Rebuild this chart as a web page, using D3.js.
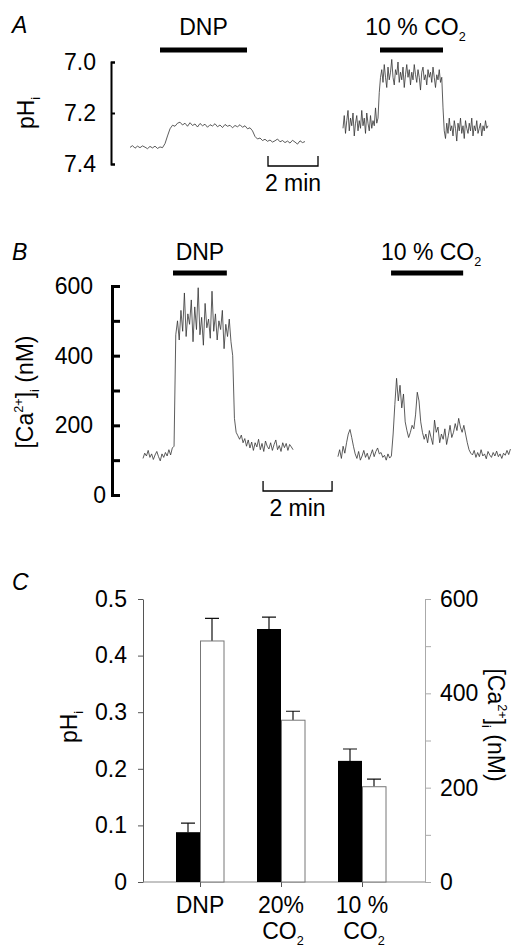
<!DOCTYPE html>
<html>
<head>
<meta charset="utf-8">
<script src="https://cdn.jsdelivr.net/npm/d3@7"></script>
<style>
  body { margin: 0; background: #fff; }
  svg { display: block; font-family: "Liberation Sans", Arial, sans-serif; }
</style>
</head>
<body>
<div id="viz"></div>
<script>
// ---------- panel A: pHi traces (minutes, pH units) ----------
const phTicksA = [7.0, 7.2, 7.4];
const stepA1 = 0.1, startA1 = 0;
const phA1 = [
  7.335, 7.328, 7.338, 7.330, 7.336, 7.329, 7.334, 7.340, 7.331, 7.337, 7.330, 7.339, 7.333, 7.336,
  7.320, 7.290, 7.262, 7.248, 7.252, 7.240,
  7.236, 7.247, 7.240, 7.252, 7.238, 7.249, 7.243, 7.255, 7.241, 7.250, 7.244, 7.256, 7.246, 7.251,
  7.242, 7.254, 7.247, 7.257, 7.245, 7.252, 7.248, 7.258, 7.249, 7.254, 7.246, 7.256, 7.250, 7.262, 7.258,
  7.270, 7.292, 7.302,
  7.298, 7.308, 7.303, 7.311, 7.306, 7.314, 7.309, 7.302, 7.313, 7.308, 7.316, 7.310, 7.318, 7.307,
  7.314, 7.322, 7.309, 7.316, 7.312
];
const stepA2 = 0.05, startA2 = 8.52;
const phA2 = [
  7.26, 7.21, 7.28, 7.23, 7.19, 7.27, 7.22, 7.25, 7.20, 7.29, 7.24, 7.21, 7.27, 7.23, 7.26, 7.19,
  7.25, 7.22, 7.28, 7.20, 7.24, 7.27, 7.21, 7.26, 7.23, 7.25, 7.18, 7.24, 7.22,
  7.12, 7.06,
  7.03, 7.08, 7.01, 7.06, 7.10, 7.02, 7.07, 7.04, 6.99, 7.06, 7.09, 7.03, 7.05, 7.00, 7.08, 7.04,
  7.07, 7.02, 7.10, 7.05, 7.01, 7.06, 7.03, 7.09, 7.04, 7.07, 7.01, 7.05, 7.08, 7.03, 7.06, 7.11,
  7.04, 7.02, 7.07, 7.05, 7.09, 7.03, 7.06, 7.04, 7.08, 7.02, 7.06, 7.10, 7.05, 7.07, 7.03, 7.08, 7.06,
  7.18, 7.27,
  7.30, 7.24, 7.28, 7.22, 7.27, 7.25, 7.29, 7.23, 7.26, 7.31, 7.24, 7.27, 7.22, 7.28, 7.25, 7.30,
  7.23, 7.26, 7.28, 7.24, 7.27, 7.22, 7.29, 7.25, 7.27, 7.23, 7.28, 7.26, 7.24, 7.29, 7.25, 7.27,
  7.23, 7.26, 7.25
];
const drugsA = [
  { label: ["DNP"], t0: 1.2, t1: 4.68 },
  { label: ["10 % CO", ["2", "sub"]], t0: 10, t1: 12.52 }
];
const scaleBarA = [5.52, 7.52];

// ---------- panel B: [Ca2+]i traces (minutes, nM) ----------
const caTicksB = [0, 100, 200, 300, 400, 500, 600];
const stepB1 = 0.05, startB1 = 0;
const caB1 = [
  105, 120, 112, 128, 108, 118, 102, 115, 125, 110, 98, 118, 108, 122, 112, 130, 115, 135,
  140, 460,
  500, 445, 530, 470, 580, 455, 520, 490, 560, 440, 540, 475, 595, 460, 510, 430,
  550, 480, 505, 450, 585, 470, 520, 445, 500, 475, 530, 420, 490, 455, 505, 440,
  400, 220, 180,
  170, 160, 172, 150, 162, 140, 158, 135, 152, 128, 150, 138, 160, 130, 148, 125, 155,
  140, 132, 150, 128, 145, 158, 130, 142, 125, 150, 136, 148, 128, 145, 138, 130
];
const stepB2 = 0.05, startB2 = 5.65;
const caB2 = [
  110, 130, 105, 140, 120, 150,
  175, 188, 165, 140,
  118, 105, 125, 100, 112, 128, 108, 120, 102, 115, 130, 110, 125, 135, 118, 122, 108, 114, 100, 118, 106, 112,
  175, 260,
  335, 270, 315, 250, 290, 210, 185,
  165, 180, 200, 190,
  230, 295, 270, 210, 180,
  160, 175, 150, 185, 165, 145,
  215, 180, 195, 150, 175, 160, 190, 145, 170, 200, 165, 180, 205, 185, 220, 195, 180, 200, 175,
  150, 130, 120,
  115, 128, 108, 122, 110, 130, 112, 118, 104, 125, 115, 108, 122, 112, 126, 110, 118, 105, 120, 114, 128, 116, 132
];
const drugsB = [
  { label: ["DNP"], t0: 0.87, t1: 2.43 },
  { label: ["10 % CO", ["2", "sub"]], t0: 7.19, t1: 9.28 }
];
const scaleBarB = [3.48, 5.48];

// ---------- panel C: mean changes ----------
const categories = ["DNP", "20% CO2", "10 % CO2"];
const catLabels = [
  [["DNP"]],
  [["20%"], ["CO", ["2", "sub"]]],
  [["10 %"], ["CO", ["2", "sub"]]]
];
const phChange = [0.088, 0.447, 0.214];
const phErr = [0.016, 0.021, 0.021];
const caChange = [511, 343, 202];
const caErr = [48, 19, 16];
const phTicksC = [0, 0.1, 0.2, 0.3, 0.4, 0.5];
const caTicksC = [0, 100, 200, 300, 400, 500, 600];

// ---------- drawing ----------
const WIDTH = 514, HEIGHT = 949, FS = 23;
const svg = d3.select("#viz").append("svg")
  .attr("width", WIDTH).attr("height", HEIGHT);
svg.append("rect").attr("width", WIDTH).attr("height", HEIGHT).attr("fill", "#fff");

// text with sub/superscripts, parts = "txt" or ["txt","sub"|"sup"]
function rich(text, parts, size) {
  let shift = 0;
  parts.forEach(p => {
    const [s, kind] = Array.isArray(p) ? p : [p, ""];
    const target = kind === "sub" ? size * 0.25 : kind === "sup" ? -size * 0.42 : 0;
    text.append("tspan")
      .attr("dy", target - shift)
      .attr("font-size", kind ? size * 0.55 : size)
      .text(s);
    shift = target;
  });
  return text;
}

function panelLetter(x, y, s) {
  svg.append("text").attr("x", x).attr("y", y)
    .attr("font-size", FS).attr("font-style", "italic").text(s);
}

function traces(x, segs) {
  const line = d3.line().x(d => x(d[0])).y(d => d[2](d[1]));
  segs.forEach(([start, step, vals, y]) => {
    svg.append("path")
      .datum(vals.map((v, i) => [start + i * step, v, y]))
      .attr("d", line)
      .attr("fill", "none")
      .attr("stroke", "#333")
      .attr("stroke-width", 0.8);
  });
}

function drugBars(x, drugs, barY, textY) {
  drugs.forEach(d => {
    svg.append("line")
      .attr("x1", x(d.t0)).attr("x2", x(d.t1))
      .attr("y1", barY).attr("y2", barY)
      .attr("stroke", "#000").attr("stroke-width", 5);
    rich(svg.append("text")
      .attr("x", (x(d.t0) + x(d.t1)) / 2 + (d.label.length > 1 ? 4 : 0))
      .attr("y", textY)
      .attr("text-anchor", "middle"), d.label, FS);
  });
}

function scaleBar(x, range, y, textY) {
  const [a, b] = range.map(x);
  svg.append("path")
    .attr("d", `M${a},${y - 10}V${y}H${b}V${y - 10}`)
    .attr("fill", "none").attr("stroke", "#000").attr("stroke-width", 1.3);
  svg.append("text").attr("x", (a + b) / 2).attr("y", textY)
    .attr("text-anchor", "middle").attr("font-size", FS).text("2 min");
}

// ===== Panel A =====
const xA = d3.scaleLinear().domain([0, 14.4]).range([130, 490]);
const yA = d3.scaleLinear().domain([7.0, 7.4]).range([62, 164]);
panelLetter(12, 33, "A");
const gA = svg.append("g").attr("transform", "translate(111,0)")
  .call(d3.axisLeft(yA).tickValues(phTicksA).tickSize(-4).tickPadding(15)
    .tickFormat(d3.format(".1f")));
gA.attr("font-family", null).attr("font-size", FS);
gA.selectAll("path, line").attr("stroke-width", 2);
rich(svg.append("text").attr("transform", "translate(34,113) rotate(-90)")
  .attr("text-anchor", "middle"), ["pH", ["i", "sub"]], FS);
traces(xA, [[startA1, stepA1, phA1, yA], [startA2, stepA2, phA2, yA]]);
drugBars(xA, drugsA, 50, 35);
scaleBar(xA, scaleBarA, 166, 191);

// ===== Panel B =====
const xB = d3.scaleLinear().domain([0, 10.7]).range([143, 143 + 10.7 * 34.5]);
const yB = d3.scaleLinear().domain([0, 600]).range([495, 286]);
panelLetter(12, 260, "B");
const gB = svg.append("g").attr("transform", "translate(112,0)")
  .call(d3.axisLeft(yB).tickValues(caTicksB).tickSize(-8).tickPadding(19)
    .tickFormat(d => d % 200 ? "" : d));
gB.attr("font-family", null).attr("font-size", FS);
gB.selectAll("path, line").attr("stroke-width", 3);
gB.selectAll(".tick text").filter(d => d === 0).attr("x", -6);
rich(svg.append("text").attr("transform", "translate(33,392) rotate(-90)")
  .attr("text-anchor", "middle"),
  ["[Ca", ["2+", "sup"], "]", ["i", "sub"], "  (nM)"], FS);
traces(xB, [[startB1, stepB1, caB1, yB], [startB2, stepB2, caB2, yB]]);
drugBars(xB, drugsB, 273, 260);
scaleBar(xB, scaleBarB, 491, 516);

// ===== Panel C =====
const xC = d3.scalePoint().domain(categories).range([200, 362]);
const yPH = d3.scaleLinear().domain([0, 0.5]).range([882, 599]);
const yCa = d3.scaleLinear().domain([0, 600]).range([882, 599]);
const barW = 24, capW = 14;
panelLetter(12, 590, "C");

const gCL = svg.append("g").attr("transform", "translate(143,0)")
  .call(d3.axisLeft(yPH).tickValues(phTicksC).tickSize(5).tickSizeOuter(0).tickPadding(11)
    .tickFormat(d => d === 0 ? "0" : d.toFixed(1)));
gCL.attr("font-family", null).attr("font-size", FS);
gCL.selectAll("path, line").attr("stroke", "#555");

const gCR = svg.append("g").attr("transform", "translate(425,0)")
  .call(d3.axisRight(yCa).tickValues(caTicksC).tickSize(6).tickSizeOuter(0).tickPadding(9)
    .tickFormat(d => d % 200 ? "" : d));
gCR.attr("font-family", null).attr("font-size", FS);
gCR.selectAll("path, line").attr("stroke", "#aaa");

svg.append("line").attr("x1", 143).attr("x2", 425)
  .attr("y1", yPH(0)).attr("y2", yPH(0)).attr("stroke", "#888");
svg.append("g").attr("transform", `translate(0,${yPH(0)})`)
  .call(d3.axisBottom(xC).tickSize(5).tickSizeOuter(0).tickFormat(""))
  .call(g => g.select(".domain").remove())
  .selectAll("line").attr("stroke", "#555");

const barsC = categories.map((c, i) => ({ c, ph: phChange[i], phE: phErr[i], ca: caChange[i], caE: caErr[i] }));
// error bars first, bars drawn over their lower half
barsC.forEach(d => {
  const xb = xC(d.c) - barW / 2, xw = xC(d.c) + barW / 2;
  [[xb, yPH(d.ph), yPH(d.ph + d.phE)], [xw, yCa(d.ca), yCa(d.ca + d.caE)]].forEach(([x, y0, y1]) => {
    svg.append("path")
      .attr("d", `M${x},${y0}V${y1}M${x - capW / 2},${y1}H${x + capW / 2}`)
      .attr("fill", "none").attr("stroke", "#111").attr("stroke-width", 1.2);
  });
});
svg.selectAll(".bar-ph").data(barsC).join("rect")
  .attr("class", "bar-ph")
  .attr("x", d => xC(d.c) - barW).attr("width", barW)
  .attr("y", d => yPH(d.ph)).attr("height", d => yPH(0) - yPH(d.ph))
  .attr("fill", "#000");
svg.selectAll(".bar-ca").data(barsC).join("rect")
  .attr("class", "bar-ca")
  .attr("x", d => xC(d.c) + 0.5).attr("width", barW - 0.5)
  .attr("y", d => yCa(d.ca)).attr("height", d => yCa(0) - yCa(d.ca))
  .attr("fill", "#fff").attr("stroke", "#777").attr("stroke-width", 1);

catLabels.forEach((lines, i) => {
  lines.forEach((parts, j) => {
    rich(svg.append("text")
      .attr("x", xC(categories[i]) + (j ? 2 : 0)).attr("y", 913 + j * 26)
      .attr("text-anchor", "middle"), parts, FS);
  });
});

rich(svg.append("text").attr("transform", "translate(77,727) rotate(-90)")
  .attr("text-anchor", "middle"), ["pH", ["i", "sub"]], FS);
rich(svg.append("text").attr("transform", "translate(488,725) rotate(90)")
  .attr("text-anchor", "middle"),
  ["[Ca", ["2+", "sup"], "]", ["i", "sub"], "  (nM)"], FS);
</script>
</body>
</html>
